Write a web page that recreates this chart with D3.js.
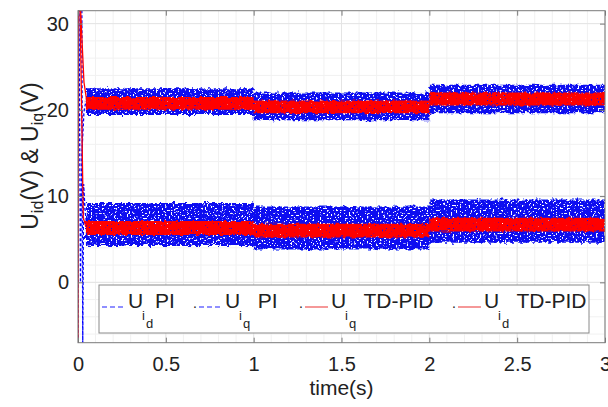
<!DOCTYPE html>
<html>
<head>
<meta charset="utf-8">
<script src="https://cdn.jsdelivr.net/npm/d3@7"></script>
<style>
body { margin: 0; background: #fff; }
text { font-family: "Liberation Sans", Arial, Helvetica, sans-serif; fill: #222; }
</style>
</head>
<body>
<svg id="chart" width="608" height="407"></svg>
<script>
// steady-state segments (time in s)
var segStart = [0.045, 1, 2];
var segEnd = [1, 2, 3];

// noise band limits of each signal in each segment (V)
var uqPI_lo = [19.4, 18.8, 19.6];
var uqPI_hi = [22.5, 22.0, 22.9];
var uqTD_lo = [20.0, 19.6, 20.5];
var uqTD_hi = [21.5, 21.1, 22.0];
var udPI_lo = [4.2, 3.8, 4.6];
var udPI_hi = [9.2, 8.8, 9.6];
var udTD_lo = [5.5, 5.2, 5.9];
var udTD_hi = [7.1, 6.8, 7.5];

// start-up transients
var udPI_t = [0, 0.003, 0.022, 0.027, 0.032, 0.04, 0.05];
var udPI_v = [-7, 31.5, 31.5, -7, 11.4, 8.5, 6.5];
var uqPI_t = [0, 0.004, 0.006, 0.014, 0.022, 0.034, 0.045];
var uqPI_v = [-7, 31.5, 31.5, 0, 15, 19.8, 21];
var uqTD_t = [0, 0.001, 0.015, 0.034, 0.05];
var uqTD_v = [-7, 31.5, 31.5, 23.2, 21.0];
var udTD_t = [-0.003, -0.002, 0.012, 0.03, 0.045];
var udTD_v = [-7, 31.5, 31.5, 7.5, 6.4];

var xTicks = [0, 0.5, 1, 1.5, 2, 2.5, 3];
var xTickLabels = ["0", "0.5", "1", "1.5", "2", "2.5", "3"];
var yTicks = [0, 10, 20, 30];
var yTickLabels = ["0", "10", "20", "30"];

var legendLabels = [
  ["i", "d", "PI"],
  ["i", "q", " PI"],
  ["i", "q", " TD-PID"],
  ["i", "d", " TD-PID"]
];
var legendDash = ["5,3", "5,3", null, null];

var width = 608, height = 407;
var margin = {top: 10.7, right: 3, bottom: 64.3, left: 78};

var svg = d3.select("#chart");

var x = d3.scaleLinear().domain([0, 3]).range([margin.left, width - margin.right]);
var y = d3.scaleLinear().domain([-7, 31.5]).range([height - margin.bottom, margin.top]);

var defs = svg.append("defs");
defs.append("clipPath").attr("id", "plotclip")
  .append("rect")
  .attr("x", x(0)).attr("y", y(31.5))
  .attr("width", x(3) - x(0)).attr("height", y(-7) - y(31.5));

function makeFilter(id, seed, holes, disp) {
  var f = defs.append("filter").attr("id", id)
    .attr("x", "-5%").attr("y", "-40%").attr("width", "110%").attr("height", "180%");
  f.append("feTurbulence").attr("type", "fractalNoise")
    .attr("baseFrequency", "0.25 0.25").attr("numOctaves", 2).attr("seed", seed).attr("result", "noise");
  f.append("feDisplacementMap").attr("in", "SourceGraphic").attr("in2", "noise")
    .attr("scale", disp).attr("xChannelSelector", "R").attr("yChannelSelector", "G").attr("result", "disp");
  f.append("feTurbulence").attr("type", "fractalNoise")
    .attr("baseFrequency", "0.55 0.6").attr("numOctaves", 1).attr("seed", seed + 7).attr("result", "n2");
  f.append("feColorMatrix").attr("in", "n2").attr("type", "matrix")
    .attr("values", "0 0 0 0 0  0 0 0 0 0  0 0 0 0 0  -16 0 0 0 " + holes).attr("result", "mask");
  f.append("feComposite").attr("in", "disp").attr("in2", "mask").attr("operator", "in");
}
makeFilter("speckBlue", 3, 10.6, 6);
makeFilter("speckRed", 11, 12, 4);

// grid
var xMinor = d3.range(0, 3.001, 0.1);
var yMinor = d3.range(-6, 31.5, 2);
var grid = svg.append("g");
grid.selectAll(".xm").data(xMinor).enter().append("line")
  .attr("x1", d => x(d)).attr("x2", d => x(d))
  .attr("y1", y(-7)).attr("y2", y(31.5))
  .attr("stroke", "#f1f1f1").attr("stroke-width", 1);
grid.selectAll(".ym").data(yMinor).enter().append("line")
  .attr("x1", x(0)).attr("x2", x(3))
  .attr("y1", d => y(d)).attr("y2", d => y(d))
  .attr("stroke", "#f1f1f1").attr("stroke-width", 1);
grid.selectAll(".xg").data(xTicks).enter().append("line")
  .attr("x1", d => x(d)).attr("x2", d => x(d))
  .attr("y1", y(-7)).attr("y2", y(31.5))
  .attr("stroke", "#e4e4e4").attr("stroke-width", 1);
grid.selectAll(".yg").data(yTicks).enter().append("line")
  .attr("x1", x(0)).attr("x2", x(3))
  .attr("y1", d => y(d)).attr("y2", d => y(d))
  .attr("stroke", "#e4e4e4").attr("stroke-width", 1);

var plot = svg.append("g").attr("clip-path", "url(#plotclip)");

function bandPoints(lo, hi) {
  var pts = [];
  for (var i = 0; i < segStart.length; i++) {
    pts.push({t: segStart[i], lo: lo[i], hi: hi[i]});
    pts.push({t: segEnd[i], lo: lo[i], hi: hi[i]});
  }
  return pts;
}
var area = d3.area().x(d => x(d.t)).y0(d => y(d.lo)).y1(d => y(d.hi));
var line = d3.line().x(d => x(d[0])).y(d => y(d[1]));

function zip(t, v) { return t.map((d, i) => [d, v[i]]); }

// PI bands (blue)
[[udPI_lo, udPI_hi], [uqPI_lo, uqPI_hi]].forEach(function(b) {
  plot.append("path").datum(bandPoints(b[0], b[1]))
    .attr("d", area).attr("fill", "#0a10f0").attr("filter", "url(#speckBlue)");
});
// PI transients
[zip(udPI_t, udPI_v), zip(uqPI_t, uqPI_v)].forEach(function(d) {
  plot.append("path").datum(d).attr("d", line)
    .attr("fill", "none").attr("stroke", "#0000ff").attr("stroke-width", 1.3)
    .attr("stroke-dasharray", "3,2");
});
// TD-PID bands (red)
[[udTD_lo, udTD_hi], [uqTD_lo, uqTD_hi]].forEach(function(b) {
  plot.append("path").datum(bandPoints(b[0], b[1]))
    .attr("d", area).attr("fill", "#ff0000").attr("filter", "url(#speckRed)");
});
[zip(uqTD_t, uqTD_v), zip(udTD_t, udTD_v)].forEach(function(d) {
  plot.append("path").datum(d).attr("d", line)
    .attr("fill", "none").attr("stroke", "#ff0000").attr("stroke-width", 1.3);
});

// axes
var axisColor = "#7a7a7a";
function styleAxis(g) {
  g.select(".domain").remove();
  g.selectAll(".tick line").attr("stroke", axisColor);
  g.selectAll(".tick text").attr("font-size", 20).attr("fill", "#222");
}
svg.append("g").attr("transform", "translate(0," + y(-7) + ")")
  .call(d3.axisBottom(x).tickValues(xTicks).tickFormat((d, i) => xTickLabels[i])
    .tickSizeInner(-5).tickSizeOuter(0).tickPadding(14))
  .call(styleAxis);
svg.append("g").attr("transform", "translate(0," + y(31.5) + ")")
  .call(d3.axisTop(x).tickValues(xTicks).tickFormat("").tickSizeInner(-5).tickSizeOuter(0))
  .call(styleAxis);
svg.append("g").attr("transform", "translate(" + x(0) + ",0)")
  .call(d3.axisLeft(y).tickValues(yTicks).tickFormat((d, i) => yTickLabels[i])
    .tickSizeInner(-5).tickSizeOuter(0).tickPadding(9))
  .call(styleAxis);
svg.append("g").attr("transform", "translate(" + x(3) + ",0)")
  .call(d3.axisRight(y).tickValues(yTicks).tickFormat("").tickSizeInner(-5).tickSizeOuter(0))
  .call(styleAxis);

svg.append("rect")
  .attr("x", x(0)).attr("y", y(31.5))
  .attr("width", x(3) - x(0)).attr("height", y(-7) - y(31.5))
  .attr("fill", "none").attr("stroke", axisColor).attr("stroke-width", 1);

// axis titles
svg.append("text")
  .attr("x", (x(0) + x(3)) / 2).attr("y", 395)
  .attr("text-anchor", "middle").attr("font-size", 21)
  .text("time(s)");

var yl = svg.append("text")
  .attr("transform", "translate(38,156) rotate(-90)")
  .attr("text-anchor", "middle").attr("font-size", 23);
yl.append("tspan").text("U");
yl.append("tspan").attr("font-size", 16).attr("dy", 5).text("id");
yl.append("tspan").attr("dy", -5).text("(V) & U");
yl.append("tspan").attr("font-size", 16).attr("dy", 5).text("iq");
yl.append("tspan").attr("dy", -5).text("(V)");

// legend
var legend = svg.append("g");
legend.append("rect")
  .attr("x", 99).attr("y", 285).attr("width", 490).attr("height", 48)
  .attr("fill", "#fff").attr("stroke", "#8a8a8a").attr("stroke-width", 1);

var itemX = [102, 199, 305, 458];
legendLabels.forEach(function(lab, i) {
  var g = legend.append("g").attr("transform", "translate(" + itemX[i] + ",0)");
  if (i > 0) {
    g.append("text").attr("x", -6).attr("y", 308).attr("font-size", 14).text(".");
  }
  g.append("line")
    .attr("x1", 0).attr("x2", 23).attr("y1", 307).attr("y2", 307)
    .attr("stroke", i < 2 ? "#6b6bff" : "#f06060").attr("stroke-width", 1.3)
    .attr("stroke-dasharray", legendDash[i]);
  g.append("text").attr("x", 26).attr("y", 308).attr("font-size", 21).text("U");
  g.append("text").attr("x", 40).attr("y", 320).attr("font-size", 13).text(lab[0]);
  g.append("text").attr("x", 44).attr("y", 328).attr("font-size", 13).text(lab[1]);
  g.append("text").attr("x", 53).attr("y", 308).attr("font-size", 21)
    .style("white-space", "pre").text(lab[2]);
});
</script>
</body>
</html>
